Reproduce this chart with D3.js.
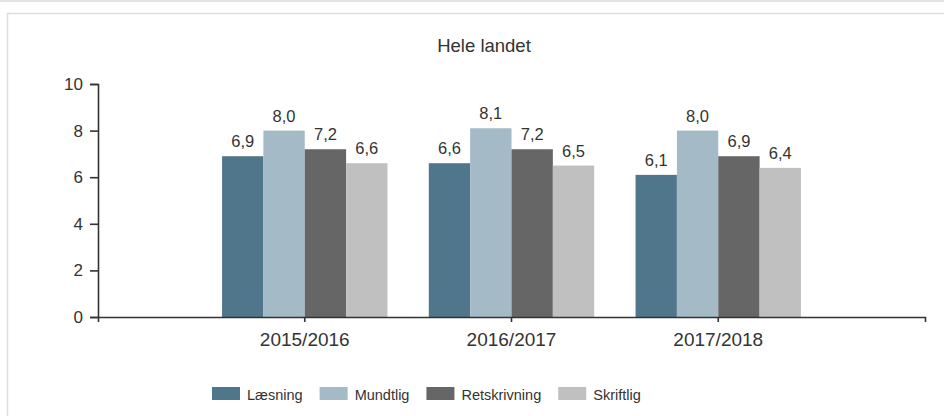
<!DOCTYPE html>
<html>
<head>
<meta charset="utf-8">
<script src="https://cdn.jsdelivr.net/npm/d3@7"></script>
<style>
  body { margin: 0; background: #fff; }
  svg text { font-family: Arial, "Liberation Sans", sans-serif; fill: #333; }
</style>
</head>
<body>
<div id="vis"></div>
<script>
// data
var years = ["2015/2016", "2016/2017", "2017/2018"];
var series = ["Læsning", "Mundtlig", "Retskrivning", "Skriftlig"];
var laesning = [6.9, 6.6, 6.1];
var mundtlig = [8.0, 8.1, 8.0];
var retskrivning = [7.2, 7.2, 6.9];
var skriftlig = [6.6, 6.5, 6.4];
var yTicks = [0, 2, 4, 6, 8, 10];
var colors = ["#4f768a", "#a4bac6", "#666666", "#c0c0c0"];

var values = [laesning, mundtlig, retskrivning, skriftlig];
var rows = years.map(function (y, i) {
  return { year: y, bars: series.map(function (s, j) { return { key: s, value: values[j][i], idx: j }; }) };
});

var svg = d3.select("#vis")
  .append("svg")
  .attr("width", 944)
  .attr("height", 416);

// page frame: thin grey strip on top and the panel border
svg.append("rect").attr("x", 0).attr("y", 0).attr("width", 944).attr("height", 2).attr("fill", "#e2e2e2");
svg.append("rect")
  .attr("x", 7.5).attr("y", 13.5).attr("width", 960).attr("height", 420)
  .attr("fill", "none").attr("stroke", "#dedede").attr("stroke-width", 1.5);

svg.append("text")
  .attr("x", 484).attr("y", 52)
  .attr("text-anchor", "middle")
  .style("font-size", "18.5px")
  .text("Hele landet");

var x0 = d3.scaleBand().domain(years).range([98, 925]).paddingInner(0.2).paddingOuter(0.6);
var x1 = d3.scaleBand().domain(series).range([0, x0.bandwidth()]);
var y = d3.scaleLinear().domain([0, 10]).range([317, 84]);

// bars
var groups = svg.selectAll("g.grp")
  .data(rows)
  .enter()
  .append("g")
  .attr("class", "grp")
  .attr("transform", function (d) { return "translate(" + x0(d.year) + ",0)"; });

groups.selectAll("rect")
  .data(function (d) { return d.bars; })
  .enter()
  .append("rect")
  .attr("x", function (d) { return x1(d.key); })
  .attr("y", function (d) { return y(d.value); })
  .attr("width", x1.bandwidth())
  .attr("height", function (d) { return y(0) - y(d.value); })
  .attr("fill", function (d) { return colors[d.idx]; });

groups.selectAll("text.val")
  .data(function (d) { return d.bars; })
  .enter()
  .append("text")
  .attr("class", "val")
  .attr("x", function (d) { return x1(d.key) + x1.bandwidth() / 2; })
  .attr("y", function (d) { return y(d.value) - 9; })
  .attr("text-anchor", "middle")
  .style("font-size", "16.5px")
  .text(function (d) { return d.value.toFixed(1).replace(".", ","); });

// axes
var yAxis = svg.append("g")
  .attr("transform", "translate(98,0)")
  .call(d3.axisLeft(y).tickValues(yTicks).tickSizeInner(8).tickSizeOuter(8).tickPadding(7));
yAxis.selectAll("text").style("font-size", "17px");

var xAxis = svg.append("g")
  .attr("transform", "translate(0,317)")
  .call(d3.axisBottom(x0).tickSizeInner(5).tickSizeOuter(5).tickPadding(11));
xAxis.selectAll("text").style("font-size", "19px");

svg.selectAll(".domain, .tick line").attr("stroke", "#333").attr("stroke-width", 1.6);
svg.selectAll(".tick text").attr("fill", "#333");

// legend
var legend = svg.append("g").attr("transform", "translate(212,0)");
var lx = 0;
series.forEach(function (s, i) {
  var item = legend.append("g").attr("transform", "translate(" + lx + ",0)");
  item.append("rect").attr("x", 0).attr("y", 387).attr("width", 28).attr("height", 13).attr("fill", colors[i]);
  var t = item.append("text").attr("x", 35).attr("y", 400).style("font-size", "14.5px").text(s);
  lx += 35 + t.node().getComputedTextLength() + 17;
});
</script>
</body>
</html>
